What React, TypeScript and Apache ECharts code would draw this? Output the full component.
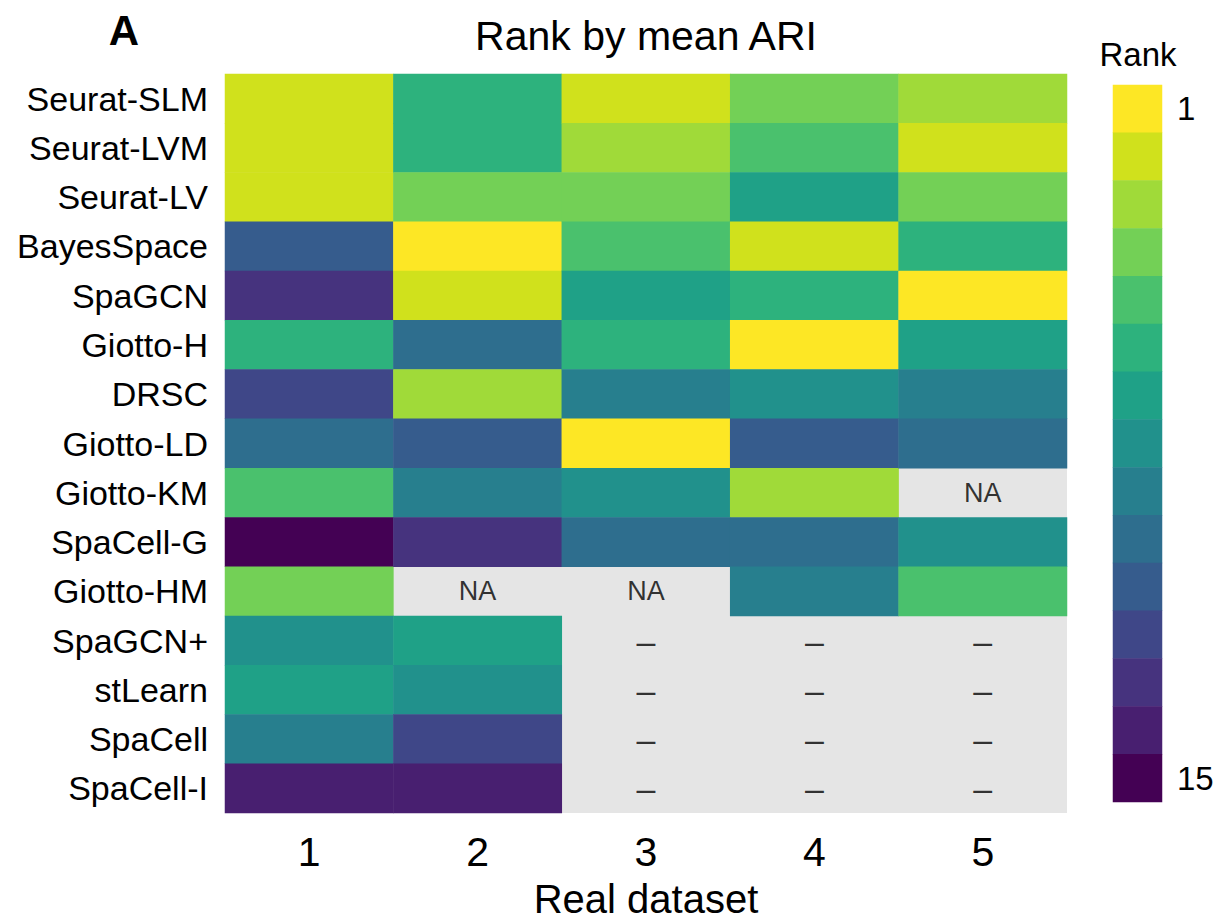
import React, { useEffect, useRef } from "react";
import * as echarts from "echarts";

// Methods, top to bottom
const methods = [
  "Seurat-SLM",
  "Seurat-LVM",
  "Seurat-LV",
  "BayesSpace",
  "SpaGCN",
  "Giotto-H",
  "DRSC",
  "Giotto-LD",
  "Giotto-KM",
  "SpaCell-G",
  "Giotto-HM",
  "SpaGCN+",
  "stLearn",
  "SpaCell",
  "SpaCell-I",
];

const datasets = ["1", "2", "3", "4", "5"];

// Rank of each method per real dataset ("NA" = failed, null = not run)
const rankDataset1: (number | string | null)[] = [2, 2, 2, 11, 13, 6, 12, 10, 5, 15, 4, 8, 7, 9, 14];
const rankDataset2: (number | string | null)[] = [6, 6, 4, 1, 2, 10, 3, 11, 9, 13, "NA", 7, 8, 12, 14];
const rankDataset3: (number | string | null)[] = [2, 3, 4, 5, 7, 6, 9, 1, 8, 10, "NA", null, null, null, null];
const rankDataset4: (number | string | null)[] = [4, 5, 7, 2, 6, 1, 8, 11, 3, 10, 9, null, null, null, null];
const rankDataset5: (number | string | null)[] = [3, 2, 4, 6, 1, 7, 9, 10, "NA", 8, 5, null, null, null, null];

const rankColumns = [rankDataset1, rankDataset2, rankDataset3, rankDataset4, rankDataset5];

// Colour scale ticks
const rankLevels = ["1", "2", "3", "4", "5", "6", "7", "8", "9", "10", "11", "12", "13", "14", "15"];
const rankTickLabels = ["1", "15"];

// Discrete viridis, rank 1 (yellow) to rank 15 (purple)
const rankColors = [
  "#FDE725", "#D0E11C", "#A0DA39", "#73D056", "#4AC16D",
  "#2DB27D", "#1FA187", "#21918C", "#277F8E", "#2E6E8E",
  "#365C8D", "#3F4788", "#46337E", "#481F70", "#440154",
];

const FONT = "'Liberation Sans', Arial, Helvetica, sans-serif";

export default function App() {
  const ref = useRef<HTMLDivElement>(null);

  useEffect(() => {
    if (!ref.current) return;
    const chart = echarts.init(ref.current, undefined, { renderer: "svg" });

    const cells: [number, number, number][] = [];
    const marks: any[] = [];
    rankColumns.forEach((col, x) => {
      col.forEach((v, y) => {
        if (typeof v === "number") cells.push([x, y, v]);
        else if (v === "NA") marks.push({ value: [x, y, "NA"], label: { fontSize: 27 } });
        else marks.push({ value: [x, y, "–"], label: { fontSize: 34 } });
      });
    });

    const barCells = rankLevels.map((r, i) => [0, i, Number(r)]);

    chart.setOption({
      animation: false,
      backgroundColor: "#ffffff",
      textStyle: { fontFamily: FONT },
      grid: [
        {
          left: 225,
          right: 154,
          top: 74,
          bottom: 110,
          show: true,
          backgroundColor: "#E5E5E5",
          borderWidth: 0,
        },
        { left: 1113, right: 59, top: 85, bottom: 121 },
      ],
      xAxis: [
        {
          type: "category",
          gridIndex: 0,
          data: datasets,
          axisLine: { show: false },
          axisTick: { show: false },
          splitLine: { show: false },
          axisLabel: { fontSize: 41, color: "#000", margin: 18, fontFamily: FONT },
        },
        {
          type: "category",
          gridIndex: 1,
          data: [""],
          axisLine: { show: false },
          axisTick: { show: false },
          axisLabel: { show: false },
        },
      ],
      yAxis: [
        {
          type: "category",
          gridIndex: 0,
          data: methods,
          inverse: true,
          axisLine: { show: false },
          axisTick: { show: false },
          splitLine: { show: false },
          axisLabel: { fontSize: 34, color: "#000", margin: 17, fontFamily: FONT },
        },
        {
          type: "category",
          gridIndex: 1,
          data: rankLevels,
          inverse: true,
          position: "right",
          axisLine: { show: false },
          axisTick: { show: false },
          axisLabel: {
            fontSize: 33,
            color: "#000",
            margin: 15,
            fontFamily: FONT,
            interval: 0,
            formatter: (v: string) => (rankTickLabels.includes(v) ? v : ""),
          },
        },
      ],
      visualMap: {
        type: "piecewise",
        show: false,
        seriesIndex: [0, 1],
        dimension: 2,
        pieces: rankLevels.map((r, i) => ({ value: Number(r), color: rankColors[i] })),
      },
      series: [
        {
          type: "heatmap",
          xAxisIndex: 0,
          yAxisIndex: 0,
          data: cells,
          itemStyle: { borderWidth: 0 },
          emphasis: { disabled: true },
        },
        {
          type: "heatmap",
          xAxisIndex: 1,
          yAxisIndex: 1,
          data: barCells,
          itemStyle: { borderWidth: 0 },
          emphasis: { disabled: true },
        },
        {
          type: "scatter",
          xAxisIndex: 0,
          yAxisIndex: 0,
          symbol: "rect",
          symbolSize: 1,
          itemStyle: { color: "rgba(0,0,0,0)" },
          silent: true,
          data: marks,
          label: {
            show: true,
            position: "inside",
            color: "#000",
            fontFamily: FONT,
            formatter: (p: any) => p.value[2],
          },
        },
      ],
      graphic: [
        {
          type: "text",
          x: 124,
          y: 30,
          style: {
            text: "A",
            font: `bold 42px ${FONT}`,
            fill: "#000",
            textAlign: "center",
            textVerticalAlign: "middle",
          },
        },
        {
          type: "text",
          x: 646,
          y: 36,
          style: {
            text: "Rank by mean ARI",
            font: `41px ${FONT}`,
            fill: "#000",
            textAlign: "center",
            textVerticalAlign: "middle",
          },
        },
        {
          type: "text",
          x: 1138,
          y: 54,
          style: {
            text: "Rank",
            font: `33px ${FONT}`,
            fill: "#000",
            textAlign: "center",
            textVerticalAlign: "middle",
          },
        },
        {
          type: "text",
          x: 646,
          y: 899,
          style: {
            text: "Real dataset",
            font: `40px ${FONT}`,
            fill: "#000",
            textAlign: "center",
            textVerticalAlign: "middle",
          },
        },
      ],
    });

    return () => chart.dispose();
  }, []);

  return (
    <div
      ref={ref}
      style={{ position: "fixed", left: 0, top: 0, width: 1221, height: 923, background: "#fff" }}
    />
  );
}
